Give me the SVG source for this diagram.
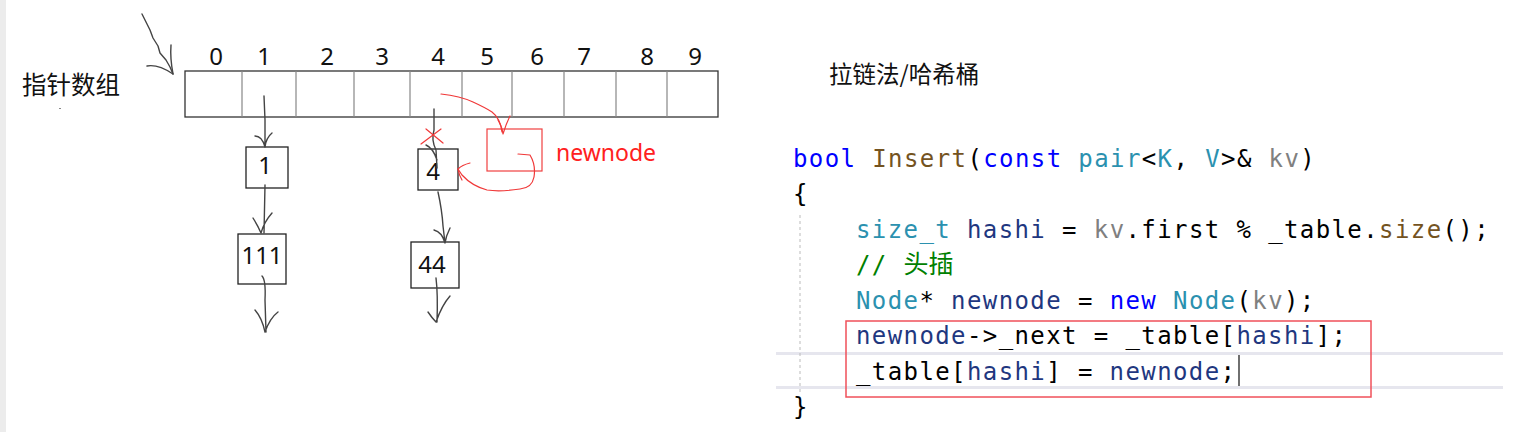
<svg xmlns="http://www.w3.org/2000/svg" width="1536" height="432" viewBox="0 0 1536 432">
<style>
.box{fill:#fff;stroke:#222;stroke-width:1.3}
.cell{fill:none;stroke:#888;stroke-width:1.2}
.ink{fill:none;stroke:#444;stroke-width:1.4;stroke-linecap:round;stroke-linejoin:round}
.red{fill:none;stroke:#f03838;stroke-width:1.2;stroke-linecap:round;stroke-linejoin:round}
.lbl{font-family:"Noto Sans","Open Sans",sans-serif;font-size:24px;fill:#111}
.cjk{font-family:"Noto Sans CJK SC",sans-serif;fill:#111}
.code{font-family:"DejaVu Sans Mono","Liberation Mono",monospace;font-size:24px;letter-spacing:1.4px;fill:#000}
.kw{fill:#0000ff}.fn{fill:#74531f}.ty{fill:#2b91af}.pa{fill:#808080}.lv{fill:#1f377f}.cm{fill:#008000}
</style>
<rect x="0" y="0" width="1536" height="432" fill="#fff"/>
<rect x="0" y="0" width="6" height="432" fill="#ececec"/>

<g id="array">
  <rect x="185" y="71" width="533" height="46" fill="#fff" stroke="#333" stroke-width="1.3"/>
  <path class="cell" d="M242 71V117M296 71V117M354 71V117M410 71V117M462 71V117M512 71V117M564 71V117M616 71V117M667 71V117"/>
  <g class="lbl" text-anchor="middle">
    <text x="216" y="65">0</text><text x="264" y="65">1</text><text x="327" y="65">2</text>
    <text x="382" y="65">3</text><text x="438" y="65">4</text><text x="487" y="65">5</text>
    <text x="537" y="65">6</text><text x="584" y="65">7</text><text x="647" y="65">8</text>
    <text x="695" y="65">9</text>
  </g>
</g>
<g id="array-label">
  <text class="cjk" x="22" y="94" font-size="24.5">指针数组</text>
  <rect x="59" y="108" width="2" height="1" fill="#888"/>
</g>

<g id="node-1"><rect class="box" x="246" y="147" width="42" height="41"/><text class="lbl" x="265" y="174" text-anchor="middle">1</text></g>
<g id="node-111"><rect class="box" x="238" y="234" width="48" height="50"/><text class="lbl" x="262" y="264" text-anchor="middle">111</text></g>
<g id="node-4"><rect class="box" x="418" y="149" width="40" height="41"/><text class="lbl" x="433" y="180" text-anchor="middle">4</text></g>
<g id="node-44"><rect class="box" x="411" y="242" width="48" height="46"/><text class="lbl" x="432" y="273" text-anchor="middle">44</text></g>
<g id="node-newnode">
  <rect x="487" y="129" width="55" height="42" fill="none" stroke="#f04040" stroke-width="1.2"/>
  <text x="556" y="161" font-family="'Noto Sans','Open Sans',sans-serif" font-size="23" fill="#ff2020">newnode</text>
</g>

<g id="connectors">
  <path class="ink" d="M142 14 L147 24 L150 30 L153 38 L158 46 L160 53 L166 60 L170 67 L173 74"/>
  <path class="ink" d="M147 66 Q158 64 173 74 M171 45 Q170 58 173 74"/>
  <path class="ink" d="M264 96 L265 120 L265 147 M255 136 Q262 136 265 147 M272 133 Q266 138 265 147"/>
  <path class="ink" d="M265 185 L264 233 M253 218 Q258 226 261 233 M272 213 Q264 222 261 233"/>
  <path class="ink" d="M262 276 Q266 280 265 300 L266 332 M255 310 Q262 318 265 332 M278 312 Q270 318 265 332"/>
  <path class="ink" d="M434 109 L434 130 Q431 140 436 150 L437 168 M426 145 Q433 148 437 160"/>
  <path class="ink" d="M438 192 Q442 210 443 226 L445 243 M434 230 Q442 232 445 243 M450 228 Q446 236 445 243"/>
  <path class="ink" d="M436 278 Q438 294 437 322 M428 312 Q432 318 436 322 M450 296 Q442 305 436 322"/>
  <path class="red" d="M441 94 Q460 96 473 102 Q486 108 492 112 Q500 118 502 132"/>
  <path class="red" d="M498 120 Q502 126 503 134 M510 116 Q506 124 503 134"/>
  <path class="red" d="M518 154 L530 155 Q536 165 534 177 Q532 188 520 189 Q500 192 487 190 Q472 186 462 175 Q460 172 458 169"/>
  <path class="red" d="M470 163 Q462 165 458 169 Q459 175 462 180"/>
  <path class="red" d="M421 144 L441 129 M426 129 L443 143"/>
</g>

<g id="title">
  <text class="cjk" x="829" y="83" font-size="23.5">拉链法/哈希桶</text>
</g>

<g id="code">
  <rect x="776" y="352" width="727" height="3" fill="#e6e6ee"/>
  <rect x="776" y="386" width="727" height="3" fill="#e6e6ee"/>
  <line x1="800" y1="215" x2="800" y2="393" stroke="#bbb" stroke-width="1" stroke-dasharray="3 3"/>
  <rect x="846" y="321" width="525" height="76" fill="none" stroke="#f0505a" stroke-width="1.5"/>
  <line x1="1239" y1="355" x2="1239" y2="386" stroke="#222" stroke-width="1.3"/>
  <text class="code" x="793" y="167"><tspan class="kw">bool</tspan> <tspan class="fn">Insert</tspan>(<tspan class="kw">const</tspan> <tspan class="ty">pair</tspan>&lt;<tspan class="ty">K</tspan>, <tspan class="ty">V</tspan>&gt;&amp; <tspan class="pa">kv</tspan>)</text>
  <text class="code" x="793" y="202">{</text>
  <text class="code" x="856" y="238"><tspan class="ty">size_t</tspan> <tspan class="lv">hashi</tspan> = <tspan class="pa">kv</tspan>.first % _table.<tspan class="fn">size</tspan>();</text>
  <text class="code cm" x="856" y="273">// <tspan font-family="'Noto Sans CJK SC',sans-serif" font-size="25" letter-spacing="0">头插</tspan></text>
  <text class="code" x="856" y="309"><tspan class="ty">Node</tspan>* <tspan class="lv">newnode</tspan> = <tspan class="kw">new</tspan> <tspan class="ty">Node</tspan>(<tspan class="pa">kv</tspan>);</text>
  <text class="code" x="856" y="344"><tspan class="lv">newnode</tspan>-&gt;_next = _table[<tspan class="lv">hashi</tspan>];</text>
  <text class="code" x="856" y="380">_table[<tspan class="lv">hashi</tspan>] = <tspan class="lv">newnode</tspan>;</text>
  <text class="code" x="793" y="415">}</text>
</g>
</svg>
